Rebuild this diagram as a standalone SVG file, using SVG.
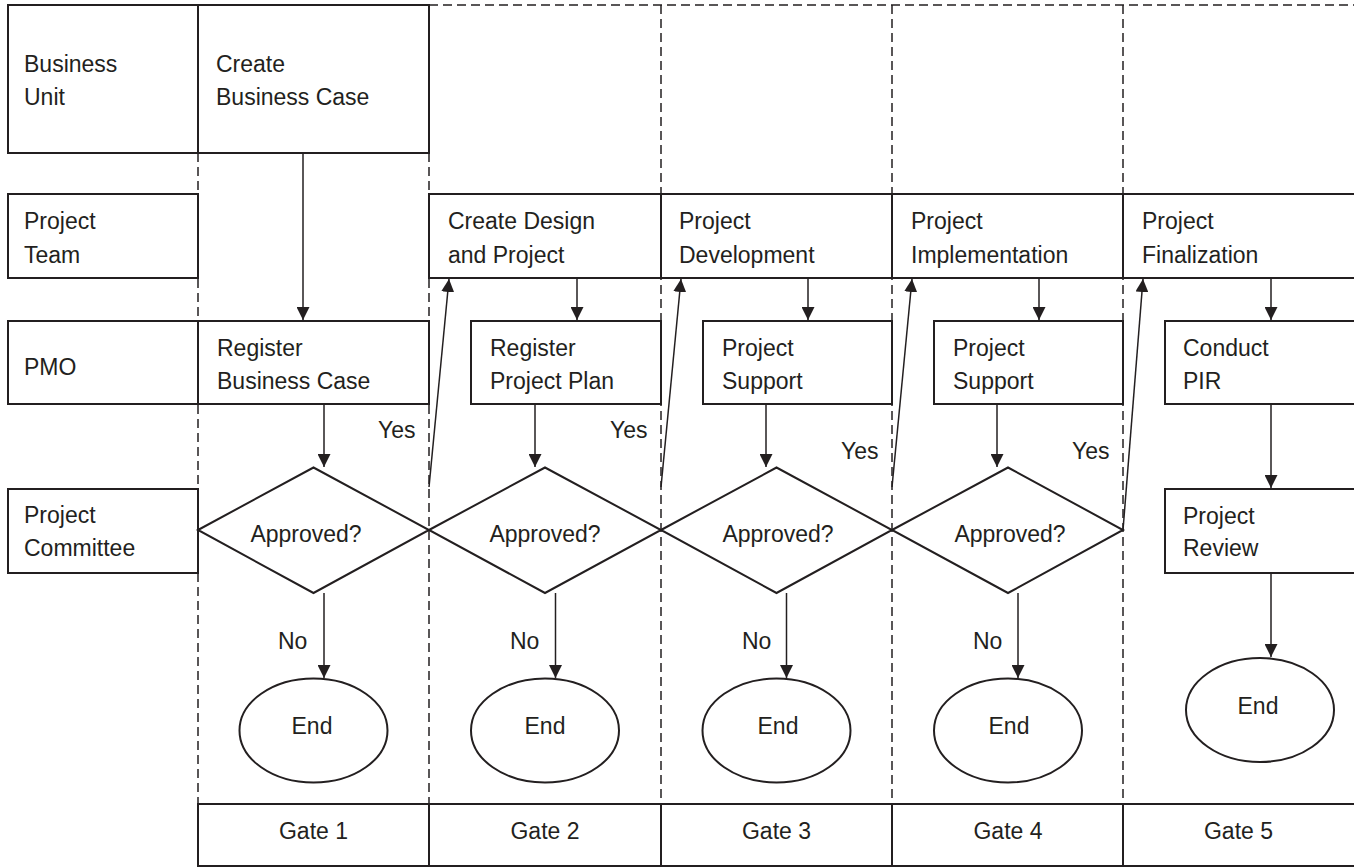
<svg xmlns="http://www.w3.org/2000/svg" width="1354" height="867" viewBox="0 0 1354 867">
<style>
.bg{fill:#fff}
.box{fill:#fff;stroke:#231f20;stroke-width:2}
.dash{fill:none;stroke:#231f20;stroke-width:1.5;stroke-dasharray:9 5}
.con{fill:none;stroke:#231f20;stroke-width:1.5}
text{font-family:"Liberation Sans",Arial,sans-serif;font-size:23px;fill:#231f20}
.c{text-anchor:middle}
</style>
<defs>
<marker id="ah" markerUnits="userSpaceOnUse" markerWidth="13" markerHeight="13" refX="13" refY="6.5" orient="auto">
<path d="M0,0 L13,6.5 L0,13 z" fill="#231f20"/>
</marker>
</defs>
<rect class="bg" x="0" y="0" width="1354" height="867"/>
<g id="dashed-lines">
<path class="dash" d="M429,5 H1354"/>
<path class="dash" d="M198,153 V804"/>
<path class="dash" d="M429,153 V804"/>
<path class="dash" d="M661,5 V804"/>
<path class="dash" d="M892,5 V804"/>
<path class="dash" d="M1123,5 V804"/>
</g>
<g id="lane-business-unit"><rect class="box" x="8" y="5" width="190" height="148"/><text x="24" y="72">Business</text><text x="24" y="105">Unit</text></g>
<g id="lane-project-team"><rect class="box" x="8" y="194" width="190" height="84"/><text x="24" y="229">Project</text><text x="24" y="263">Team</text></g>
<g id="lane-pmo"><rect class="box" x="8" y="321" width="190" height="83"/><text x="24" y="375">PMO</text></g>
<g id="lane-project-committee"><rect class="box" x="8" y="489" width="190" height="84"/><text x="24" y="523">Project</text><text x="24" y="556">Committee</text></g>

<g id="create-business-case"><rect class="box" x="198" y="5" width="231" height="148"/><text x="216" y="72">Create</text><text x="216" y="105">Business Case</text></g>
<g id="create-design"><rect class="box" x="429" y="194" width="232" height="84"/><text x="448" y="229">Create Design</text><text x="448" y="263">and Project</text></g>
<g id="project-development"><rect class="box" x="661" y="194" width="231" height="84"/><text x="679" y="229">Project</text><text x="679" y="263">Development</text></g>
<g id="project-implementation"><rect class="box" x="892" y="194" width="231" height="84"/><text x="911" y="229">Project</text><text x="911" y="263">Implementation</text></g>
<g id="project-finalization"><rect class="box" x="1123" y="194" width="240" height="84"/><text x="1142" y="229">Project</text><text x="1142" y="263">Finalization</text></g>

<g id="register-business-case"><rect class="box" x="198" y="321" width="231" height="83"/><text x="217" y="356">Register</text><text x="217" y="389">Business Case</text></g>
<g id="register-project-plan"><rect class="box" x="471" y="321" width="190" height="83"/><text x="490" y="356">Register</text><text x="490" y="389">Project Plan</text></g>
<g id="project-support-1"><rect class="box" x="703" y="321" width="189" height="83"/><text x="722" y="356">Project</text><text x="722" y="389">Support</text></g>
<g id="project-support-2"><rect class="box" x="934" y="321" width="189" height="83"/><text x="953" y="356">Project</text><text x="953" y="389">Support</text></g>
<g id="conduct-pir"><rect class="box" x="1165" y="321" width="200" height="83"/><text x="1183" y="356">Conduct</text><text x="1183" y="389">PIR</text></g>
<g id="project-review"><rect class="box" x="1165" y="489" width="200" height="84"/><text x="1183" y="524">Project</text><text x="1183" y="556">Review</text></g>

<g id="approved-1"><polygon class="box" points="198,530 313.5,467.5 429,530 313.5,593"/><text class="c" x="306" y="542">Approved?</text></g>
<g id="approved-2"><polygon class="box" points="429,530 545,467.5 661,530 545,593"/><text class="c" x="545" y="542">Approved?</text></g>
<g id="approved-3"><polygon class="box" points="661,530 776.5,467.5 892,530 776.5,593"/><text class="c" x="778" y="542">Approved?</text></g>
<g id="approved-4"><polygon class="box" points="892,530 1008,467.5 1123,530 1008,593"/><text class="c" x="1010" y="542">Approved?</text></g>

<g id="end-1"><ellipse class="box" cx="313.5" cy="730.5" rx="74" ry="52"/><text class="c" x="312" y="734">End</text></g>
<g id="end-2"><ellipse class="box" cx="545" cy="730.5" rx="74" ry="52"/><text class="c" x="545" y="734">End</text></g>
<g id="end-3"><ellipse class="box" cx="776.5" cy="730.5" rx="74" ry="52"/><text class="c" x="778" y="734">End</text></g>
<g id="end-4"><ellipse class="box" cx="1008" cy="730.5" rx="74" ry="52"/><text class="c" x="1009" y="734">End</text></g>
<g id="end-5"><ellipse class="box" cx="1260" cy="710" rx="74" ry="52"/><text class="c" x="1258" y="714">End</text></g>

<g id="gates">
<rect class="box" x="198" y="804" width="1170" height="62"/>
<path class="con" style="stroke-width:2" d="M429,804 V866 M661,804 V866 M892,804 V866 M1123,804 V866"/>
<text class="c" x="313.5" y="839">Gate 1</text>
<text class="c" x="545" y="839">Gate 2</text>
<text class="c" x="776.5" y="839">Gate 3</text>
<text class="c" x="1008" y="839">Gate 4</text>
<text class="c" x="1238.5" y="839">Gate 5</text>
</g>

<g id="connectors">
<line class="con" x1="303" y1="153" x2="303" y2="320" marker-end="url(#ah)"/>
<line class="con" x1="324" y1="404" x2="324" y2="467" marker-end="url(#ah)"/>
<line class="con" x1="324" y1="593" x2="324" y2="678" marker-end="url(#ah)"/>
<line class="con" x1="429" y1="487" x2="449" y2="279" marker-end="url(#ah)"/>
<line class="con" x1="577" y1="278" x2="577" y2="320" marker-end="url(#ah)"/>
<line class="con" x1="535" y1="404" x2="535" y2="467" marker-end="url(#ah)"/>
<line class="con" x1="555.5" y1="593" x2="555.5" y2="678" marker-end="url(#ah)"/>
<line class="con" x1="661" y1="487" x2="681" y2="279" marker-end="url(#ah)"/>
<line class="con" x1="808" y1="278" x2="808" y2="320" marker-end="url(#ah)"/>
<line class="con" x1="766" y1="404" x2="766" y2="467" marker-end="url(#ah)"/>
<line class="con" x1="786.5" y1="593" x2="786.5" y2="678" marker-end="url(#ah)"/>
<line class="con" x1="892" y1="487" x2="912" y2="279" marker-end="url(#ah)"/>
<line class="con" x1="1039" y1="278" x2="1039" y2="320" marker-end="url(#ah)"/>
<line class="con" x1="997" y1="404" x2="997" y2="467" marker-end="url(#ah)"/>
<line class="con" x1="1018" y1="593" x2="1018" y2="678" marker-end="url(#ah)"/>
<line class="con" x1="1123" y1="530" x2="1143" y2="279" marker-end="url(#ah)"/>
<line class="con" x1="1271" y1="278" x2="1271" y2="320" marker-end="url(#ah)"/>
<line class="con" x1="1271" y1="404" x2="1271" y2="488" marker-end="url(#ah)"/>
<line class="con" x1="1271" y1="573" x2="1271" y2="657" marker-end="url(#ah)"/>
<text x="378" y="438">Yes</text>
<text x="610" y="438">Yes</text>
<text x="841" y="459">Yes</text>
<text x="1072" y="459">Yes</text>
<text x="278" y="649">No</text>
<text x="510" y="649">No</text>
<text x="742" y="649">No</text>
<text x="973" y="649">No</text>
</g>
</svg>
